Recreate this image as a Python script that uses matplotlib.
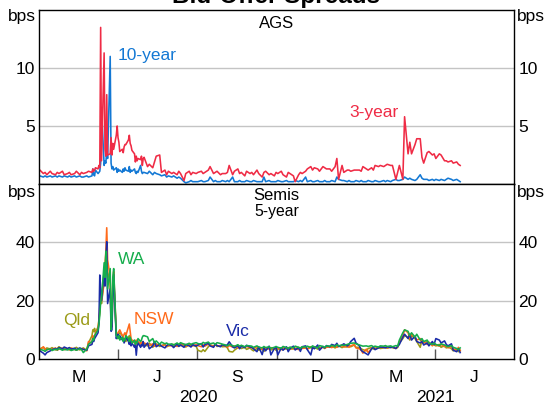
import matplotlib
matplotlib.use('Agg')
import matplotlib.pyplot as plt
import matplotlib.dates as mdates
from matplotlib.transforms import blended_transform_factory
import pandas as pd

plt.rcParams['font.family'] = 'Liberation Sans'

# sample dates: every 2nd business day, daily through Mar-Apr 2020
dates = (list(pd.bdate_range('2020-01-02', '2020-02-28', freq='2B'))
         + list(pd.bdate_range('2020-03-02', '2020-04-30', freq='B'))
         + list(pd.bdate_range('2020-05-01', '2021-04-30', freq='2B')))

# AGS bid-offer spreads, bps
ags_3y = [
    1.2, 0.9, 1.0, 0.8, 1.1, 0.9, 0.8, 1.0, 0.9, 1.1, 0.8,
    0.9, 1.0, 0.8, 0.9, 1.1, 0.8, 1.0, 0.9, 1.0, 1.1,
    1.0, 1.3, 1.1, 1.2, 1.4, 1.3, 1.6, 1.4, 13.5, 2.0, 11.3, 3.0, 2.4, 7.7, 2.5, 2.6, 4.0, 2.5, 3.5, 3.0, 4.2, 5.0,
    4.0, 3.6, 2.8, 3.0, 2.7, 3.2, 3.4, 3.4, 3.8, 4.2, 3.5, 3.3, 2.9, 2.6, 1.9, 2.4, 2.0, 2.2, 2.1, 2.4, 1.6, 2.2,
    2.3, 1.5, 1.7, 1.4, 1.9, 2.4, 2.5, 1.0, 1.2, 0.8, 1.1,
    0.9, 1.0, 0.8, 1.1, 0.9, 0.3, 0.9, 1.1, 0.8, 1.0, 0.9,
    1.0, 1.1, 0.9, 1.0, 1.2, 1.5, 0.9, 1.0, 1.1, 0.8, 0.9,
    0.9, 1.0, 1.6, 0.8, 1.1, 1.3, 0.9, 1.0, 0.7, 1.1, 0.9,
    1.0, 0.8, 1.2, 0.9, 0.6, 1.0, 1.1, 0.8, 0.9, 0.7, 1.0,
    0.9, 1.1, 0.8, 0.6, 1.0, 0.9, 0.7, 0.2, 0.8, 1.0, 0.9,
    1.1, 1.3, 1.5, 1.2, 1.4, 1.3, 1.1, 1.5, 1.4, 1.3,
    1.3, 1.1, 1.5, 2.2, 0.4, 1.6, 1.0, 1.2, 1.2, 1.1, 1.2, 1.2,
    1.2, 1.1, 1.5, 1.3, 1.2, 1.4, 1.2, 1.6, 1.5, 1.6,
    1.5, 1.6, 1.7, 1.6, 1.6, 0.4, 1.0, 1.6, 0.4, 5.8,
    2.6, 3.6, 2.6, 3.4, 3.9, 3.9, 2.3, 1.8, 2.7, 2.8, 2.5, 2.6,
    2.2, 2.6, 2.5, 2.0, 2.0, 1.9, 2.0, 1.8, 1.9, 1.7, 1.6,
]
ags_10y = [
    0.7, 0.6, 0.7, 0.6, 0.7, 0.6, 0.7, 0.6, 0.7, 0.6, 0.7,
    0.6, 0.7, 0.6, 0.7, 0.6, 0.7, 0.6, 0.6, 0.7, 0.6,
    0.7, 1.3, 0.8, 0.7, 1.2, 0.9, 1.0, 1.1, 1.8, 6.6, 1.6, 2.0, 1.8, 3.0, 2.2, 11.0, 1.8, 1.3, 1.5, 1.2, 1.4, 1.0,
    1.3, 1.1, 1.2, 1.0, 1.3, 1.1, 1.4, 1.2, 1.1, 1.5, 1.0, 1.2, 1.1, 1.3, 1.0, 0.9, 1.1, 1.0, 1.6, 1.1, 0.9, 1.0,
    1.0, 0.9, 1.1, 0.8, 1.0, 0.9, 0.8, 0.7, 0.8, 0.6, 0.7,
    0.6, 0.7, 0.5, 0.6, 0.5, 0.2, 0.1, 0.2, 0.3, 0.2, 0.2,
    0.2, 0.3, 0.2, 0.2, 0.3, 0.6, 0.2, 0.3, 0.2, 0.2, 0.3,
    0.2, 0.3, 0.2, 0.6, 0.2, 0.2, 0.3, 0.2, 0.2, 0.3, 0.2,
    0.2, 0.3, 0.2, 0.2, 0.2, 0.6, 0.2, 0.3, 0.2, 0.2, 0.2,
    0.3, 0.2, 0.2, 0.3, 0.2, 0.2, 0.2, 0.3, 0.2, 0.3, 0.2,
    0.6, 0.2, 0.3, 0.2, 0.2, 0.3, 0.2, 0.2, 0.3, 0.2,
    0.2, 0.3, 0.2, 0.6, 0.4, 0.3, 0.3, 0.2, 0.3, 0.2, 0.2, 0.3,
    0.2, 0.3, 0.2, 0.2, 0.3, 0.2, 0.2, 0.3, 0.2, 0.2,
    0.3, 0.2, 0.3, 0.2, 0.3, 0.4, 0.3, 0.3, 0.4, 0.6,
    0.4, 0.5, 0.4, 0.3, 0.4, 0.8, 0.5, 0.4, 0.4, 0.3, 0.4, 0.3,
    0.4, 0.3, 0.4, 0.3, 0.4, 0.5, 0.4, 0.3, 0.4, 0.3, 0.2,
]

# semi-government 5-year bid-offer spreads, bps
qld = [
    3.5, 4.0, 3.2, 3.8, 3.4, 3.9, 3.1, 3.6, 4.2, 3.3, 3.7,
    3.4, 3.9, 3.2, 3.6, 4.0, 3.1, 3.5, 3.8, 3.0, 5.5,
    8.0, 10.0, 9.4, 10.5, 9.0, 11.0, 13.5, 16.0, 21.0, 19.0, 27.0, 32.0, 36.0, 38.0, 30.0, 26.0, 11.0, 13.0, 23.0, 27.0, 8.5, 7.0,
    7.5, 8.5, 9.0, 8.0, 7.0, 6.5, 7.0, 6.0, 7.5, 8.0, 7.0, 6.5, 5.5, 6.0, 5.0, 5.5, 6.0, 5.0, 5.5, 4.5, 5.0, 5.5,
    5.0, 4.5, 5.5, 4.0, 4.8, 5.2, 4.3, 4.6, 5.0, 4.2, 4.5,
    4.8, 4.2, 5.0, 4.5, 5.3, 4.6, 4.1, 5.0, 4.4, 4.8, 4.3,
    3.0, 2.5, 3.2, 2.6, 4.2, 4.8, 4.5, 5.0, 4.3, 4.6, 4.2,
    4.3, 3.8, 2.6, 2.4, 3.0, 3.9, 4.2, 3.6, 4.0, 3.3, 3.8,
    3.2, 2.8, 3.6, 3.0, 3.4, 2.6, 3.3, 3.8, 3.1, 3.5, 3.0,
    3.4, 3.8, 3.2, 3.6, 3.9, 3.3, 3.7, 3.5, 4.0, 3.4, 3.8,
    3.9, 3.5, 4.2, 3.7, 4.0, 3.4, 3.8, 4.1, 3.6, 4.3,
    4.0, 4.4, 3.8, 4.2, 4.5, 3.9, 4.3, 4.1, 4.6, 4.2, 4.8, 4.0,
    4.0, 3.5, 3.2, 2.8, 3.6, 3.9, 3.4, 3.7, 4.0, 3.6,
    3.8, 4.0, 3.7, 4.1, 3.9, 3.6, 4.0, 5.5, 7.0, 8.0,
    7.5, 6.5, 8.0, 7.0, 6.0, 4.0, 6.5, 5.5, 6.0, 5.0, 5.5, 4.8,
    4.5, 5.0, 4.0, 4.6, 3.8, 4.2, 3.5, 2.8, 3.5, 2.5, 3.0,
]
nsw = [
    3.0, 4.2, 3.5, 3.1, 3.6, 3.3, 3.8, 3.0, 3.4, 3.7, 3.2,
    3.5, 3.1, 3.8, 3.3, 3.0, 3.6, 3.2, 3.4, 2.8, 6.0,
    5.5, 8.0, 6.5, 7.5, 9.0, 10.5, 13.0, 18.0, 22.0, 20.0, 26.0, 30.0, 38.0, 45.0, 34.0, 28.0, 12.0, 11.0, 25.0, 30.0, 9.0, 8.0,
    9.0, 9.5, 10.0, 8.0, 7.5, 8.5, 9.0, 8.0, 11.0, 12.0, 9.5, 7.0, 6.5, 6.0, 5.5, 6.5, 5.0, 6.0, 5.5, 5.0, 6.0, 5.5,
    5.5, 5.0, 4.6, 5.2, 4.4, 4.8, 5.0, 4.5, 4.9, 4.3, 4.7,
    4.5, 5.0, 4.3, 4.8, 4.6, 5.1, 4.4, 4.7, 5.0, 4.5, 4.9,
    4.6, 4.2, 4.9, 4.4, 5.1, 4.7, 4.3, 5.0, 4.6, 4.4, 4.8,
    4.4, 4.0, 4.6, 4.1, 4.5, 3.8, 4.2, 4.6, 4.0, 4.3, 3.9,
    4.0, 3.6, 4.2, 3.8, 3.3, 4.1, 3.7, 3.4, 3.9, 3.5, 3.8,
    3.6, 3.2, 3.9, 3.5, 3.3, 3.8, 3.4, 3.7, 3.2, 3.9, 3.6,
    3.8, 3.4, 4.0, 3.6, 4.2, 3.9, 3.5, 4.1, 3.7, 4.0,
    4.2, 3.9, 4.5, 4.0, 4.3, 4.6, 4.1, 4.4, 4.0, 4.5, 5.0, 3.8,
    3.5, 3.0, 2.0, 3.4, 2.2, 3.6, 3.9, 3.5, 3.8, 4.0,
    3.9, 4.1, 3.8, 4.2, 4.0, 3.7, 4.1, 6.0, 8.0, 10.0,
    9.0, 7.0, 8.5, 7.5, 6.5, 7.0, 5.5, 6.0, 5.0, 5.8, 4.5, 5.2,
    4.8, 4.4, 5.0, 4.2, 4.6, 3.8, 4.3, 3.5, 3.0, 4.0, 2.8,
]
vic = [
    2.8, 2.0, 1.4, 2.2, 2.8, 3.2, 3.6, 3.3, 3.9, 3.5, 4.1,
    3.6, 3.9, 3.4, 3.7, 3.2, 3.8, 3.5, 3.3, 3.0, 4.5,
    5.0, 6.5, 6.0, 7.0, 7.5, 9.0, 12.0, 28.8, 24.0, 20.0, 30.0, 25.0, 34.0, 40.2, 19.0, 24.0, 9.5, 10.0, 22.0, 29.0, 7.0, 8.0,
    8.5, 7.5, 8.0, 6.5, 7.0, 5.5, 6.5, 7.5, 6.0, 5.0, 6.5, 4.5, 5.5, 4.0, 5.0, 1.3, 4.5, 5.5, 4.0, 5.0, 4.5, 6.0,
    4.0, 5.5, 3.5, 4.5, 6.0, 4.2, 5.0, 4.4, 3.8, 4.6, 5.0,
    4.6, 3.9, 5.2, 4.3, 4.8, 4.0, 5.0, 4.5, 4.1, 4.9, 4.4,
    4.8, 5.3, 4.1, 4.9, 5.4, 4.5, 4.0, 5.1, 4.6, 4.2, 4.9,
    4.5, 4.9, 5.9, 4.2, 3.8, 4.6, 3.5, 4.4, 3.9, 4.7, 4.1,
    4.0, 3.5, 2.5, 4.2, 1.5, 3.8, 2.8, 4.4, 1.4, 3.6, 4.0,
    1.4, 3.8, 3.0, 4.2, 2.5, 3.6, 4.4, 3.1, 3.9, 2.6, 4.2,
    4.5, 3.2, 1.4, 4.0, 3.5, 4.8, 3.0, 4.3, 3.8, 4.6,
    4.2, 5.0, 4.6, 5.4, 4.3, 4.8, 5.2, 4.5, 5.0, 6.0, 7.1, 5.5,
    4.5, 3.0, 2.5, 1.8, 1.4, 3.5, 4.0, 3.2, 3.8, 4.1,
    4.0, 3.8, 4.2, 3.9, 4.1, 3.6, 4.3, 5.0, 7.5, 8.5,
    7.0, 8.5, 6.5, 7.8, 6.0, 5.5, 6.0, 4.8, 5.5, 4.5, 6.0, 5.0,
    7.0, 6.5, 5.5, 6.2, 5.0, 4.5, 5.2, 3.0, 2.5, 3.5, 2.2,
]
wa = [
    3.3, 3.0, 2.6, 3.2, 3.5, 2.9, 3.4, 3.1, 3.6, 3.0, 3.3,
    3.1, 3.4, 2.9, 3.3, 3.0, 3.5, 3.2, 2.2, 3.4, 5.0,
    6.0, 7.0, 6.5, 8.0, 8.5, 10.0, 12.0, 15.0, 19.5, 21.0, 33.0, 28.0, 37.0, 32.0, 24.0, 31.0, 10.0, 14.0, 28.0, 31.0, 8.0, 7.5,
    7.0, 8.0, 6.5, 7.5, 6.0, 7.0, 6.5, 8.0, 7.0, 6.0, 7.5, 6.5, 5.5, 6.5, 5.0, 6.0, 5.5, 7.0, 6.0, 6.5, 7.5, 8.0,
    8.0, 7.6, 6.0, 7.0, 5.5, 6.2, 5.0, 5.8, 5.2, 5.5, 5.0,
    5.2, 4.8, 5.5, 5.0, 5.6, 5.1, 4.9, 5.4, 5.0, 5.3, 5.6,
    5.3, 5.0, 5.7, 5.4, 5.8, 5.2, 5.5, 5.0, 5.6, 5.3, 5.1,
    4.8, 4.5, 5.0, 4.6, 4.3, 4.9, 4.4, 4.7, 4.2, 4.6, 4.5,
    4.4, 4.0, 4.5, 4.1, 3.8, 4.3, 3.9, 4.2, 3.7, 4.0, 4.3,
    4.0, 3.7, 4.3, 3.9, 3.6, 4.1, 3.8, 4.4, 4.0, 3.7, 4.2,
    4.1, 4.4, 3.9, 4.5, 4.2, 3.8, 4.6, 4.3, 4.0, 4.5,
    4.4, 4.7, 4.3, 4.9, 4.5, 4.8, 4.6, 5.0, 5.2, 5.4, 5.5, 5.2,
    4.8, 4.6, 4.4, 4.5, 4.3, 4.6, 4.2, 4.4, 4.1, 4.5,
    4.4, 4.6, 4.3, 4.5, 4.2, 4.6, 4.4, 6.5, 9.0, 10.0,
    9.5, 8.0, 9.0, 7.5, 8.5, 6.5, 7.0, 6.0, 6.5, 5.5, 5.0, 5.5,
    5.0, 4.6, 5.2, 4.8, 4.5, 4.2, 4.6, 4.0, 3.6, 3.2, 3.8,
]

quarter_labels = ['M', 'J', 'S', 'D', 'M', 'J']
year_labels = ['2020', '2021']

RED, BLUE = '#ef2b45', '#1378d4'
OLIVE, ORANGE, NAVY, GREEN = '#9a9a16', '#ff6a1a', '#1b2ca8', '#15ad4c'

fig = plt.figure(figsize=(5.45, 4.07), dpi=100)
ax1 = fig.add_axes([39 / 545, 1 - 184 / 407, 475 / 545, 174 / 407])
ax2 = fig.add_axes([39 / 545, 1 - 359 / 407, 475 / 545, 175 / 407])

x0, x1 = pd.Timestamp('2020-01-01'), pd.Timestamp('2021-07-01')
edges = pd.date_range(x0, x1, freq='QS')
centres = [a + (b - a) / 2 for a, b in zip(edges[:-1], edges[1:])]


def series(ax, vals, colour):
    n = min(len(vals), len(dates))
    ax.plot(dates[:n], vals[:n], color=colour, lw=1.15, zorder=3)


def style(ax, top, ticks):
    ax.set_xlim(x0, x1)
    ax.set_ylim(0, top)
    ax.set_yticks(ticks)
    for t in ticks:
        if t > 0:
            ax.axhline(t, color='#c4c4c4', lw=1, zorder=1)
    ax.tick_params(axis='y', length=0, labelsize=12.5, labelleft=True, labelright=True, pad=3)
    for s in ax.spines.values():
        s.set_color('black')
        s.set_linewidth(1)
        s.set_zorder(5)


series(ax1, ags_10y, BLUE)
series(ax1, ags_3y, RED)
style(ax1, 15, [5, 10])
ax1.set_xticks([])

for vals, colour in [(qld, OLIVE), (nsw, ORANGE), (vic, NAVY), (wa, GREEN)]:
    series(ax2, vals, colour)
style(ax2, 60, [0, 20, 40])

ax2.set_xticks(edges[1:-1])
ax2.set_xticklabels([])
ax2.tick_params(axis='x', which='major', direction='in', length=7, width=1, color='#555555')
ax2.set_xticks(centres, minor=True)
ax2.set_xticklabels(quarter_labels, minor=True)
ax2.tick_params(axis='x', which='minor', length=0, labelsize=12.5, pad=8)

trans = blended_transform_factory(ax2.transData, fig.transFigure)
year_edges = [x0, pd.Timestamp('2021-01-01'), x1]
for i, lab in enumerate(year_labels):
    mid = year_edges[i] + (year_edges[i + 1] - year_edges[i]) / 2
    ax2.text(mdates.date2num(mid), 1 - 398 / 407, lab, transform=trans,
             ha='center', va='center', fontsize=12.5)

# units labels on both sides
for ax, y in [(ax1, 0.961), (ax2, 0.954)]:
    ax.text(-3 / 475, y, 'bps', transform=ax.transAxes, ha='right', va='center', fontsize=12.5)
    ax.text(1 + 3 / 475, y, 'bps', transform=ax.transAxes, ha='left', va='center', fontsize=12.5)

ax1.text(0.5, 0.92, 'AGS', transform=ax1.transAxes, ha='center', va='center', fontsize=12)
ax2.text(0.5, 0.937, 'Semis', transform=ax2.transAxes, ha='center', va='center', fontsize=12)
ax2.text(0.5, 0.84, '5-year', transform=ax2.transAxes, ha='center', va='center', fontsize=11.3)

ax1.text(0.166, 0.741, '10-year', transform=ax1.transAxes, color=BLUE, va='center', fontsize=12.5)
ax1.text(0.653, 0.41, '3-year', transform=ax1.transAxes, color=RED, va='center', fontsize=12.5)
ax2.text(0.166, 0.571, 'WA', transform=ax2.transAxes, color=GREEN, va='center', fontsize=12.5)
ax2.text(0.0505, 0.219, 'Qld', transform=ax2.transAxes, color=OLIVE, va='center', fontsize=12.5)
ax2.text(0.2, 0.227, 'NSW', transform=ax2.transAxes, color=ORANGE, va='center', fontsize=12.5)
ax2.text(0.394, 0.156, 'Vic', transform=ax2.transAxes, color=NAVY, va='center', fontsize=12.5)

# title sits partly above the top edge, as in the source image
fig.text(276.5 / 545, 1 - 3 / 407, 'Bid-Offer Spreads', ha='center', va='baseline',
         fontsize=17.5, fontweight='bold')

fig.savefig('out.png', dpi=100)
